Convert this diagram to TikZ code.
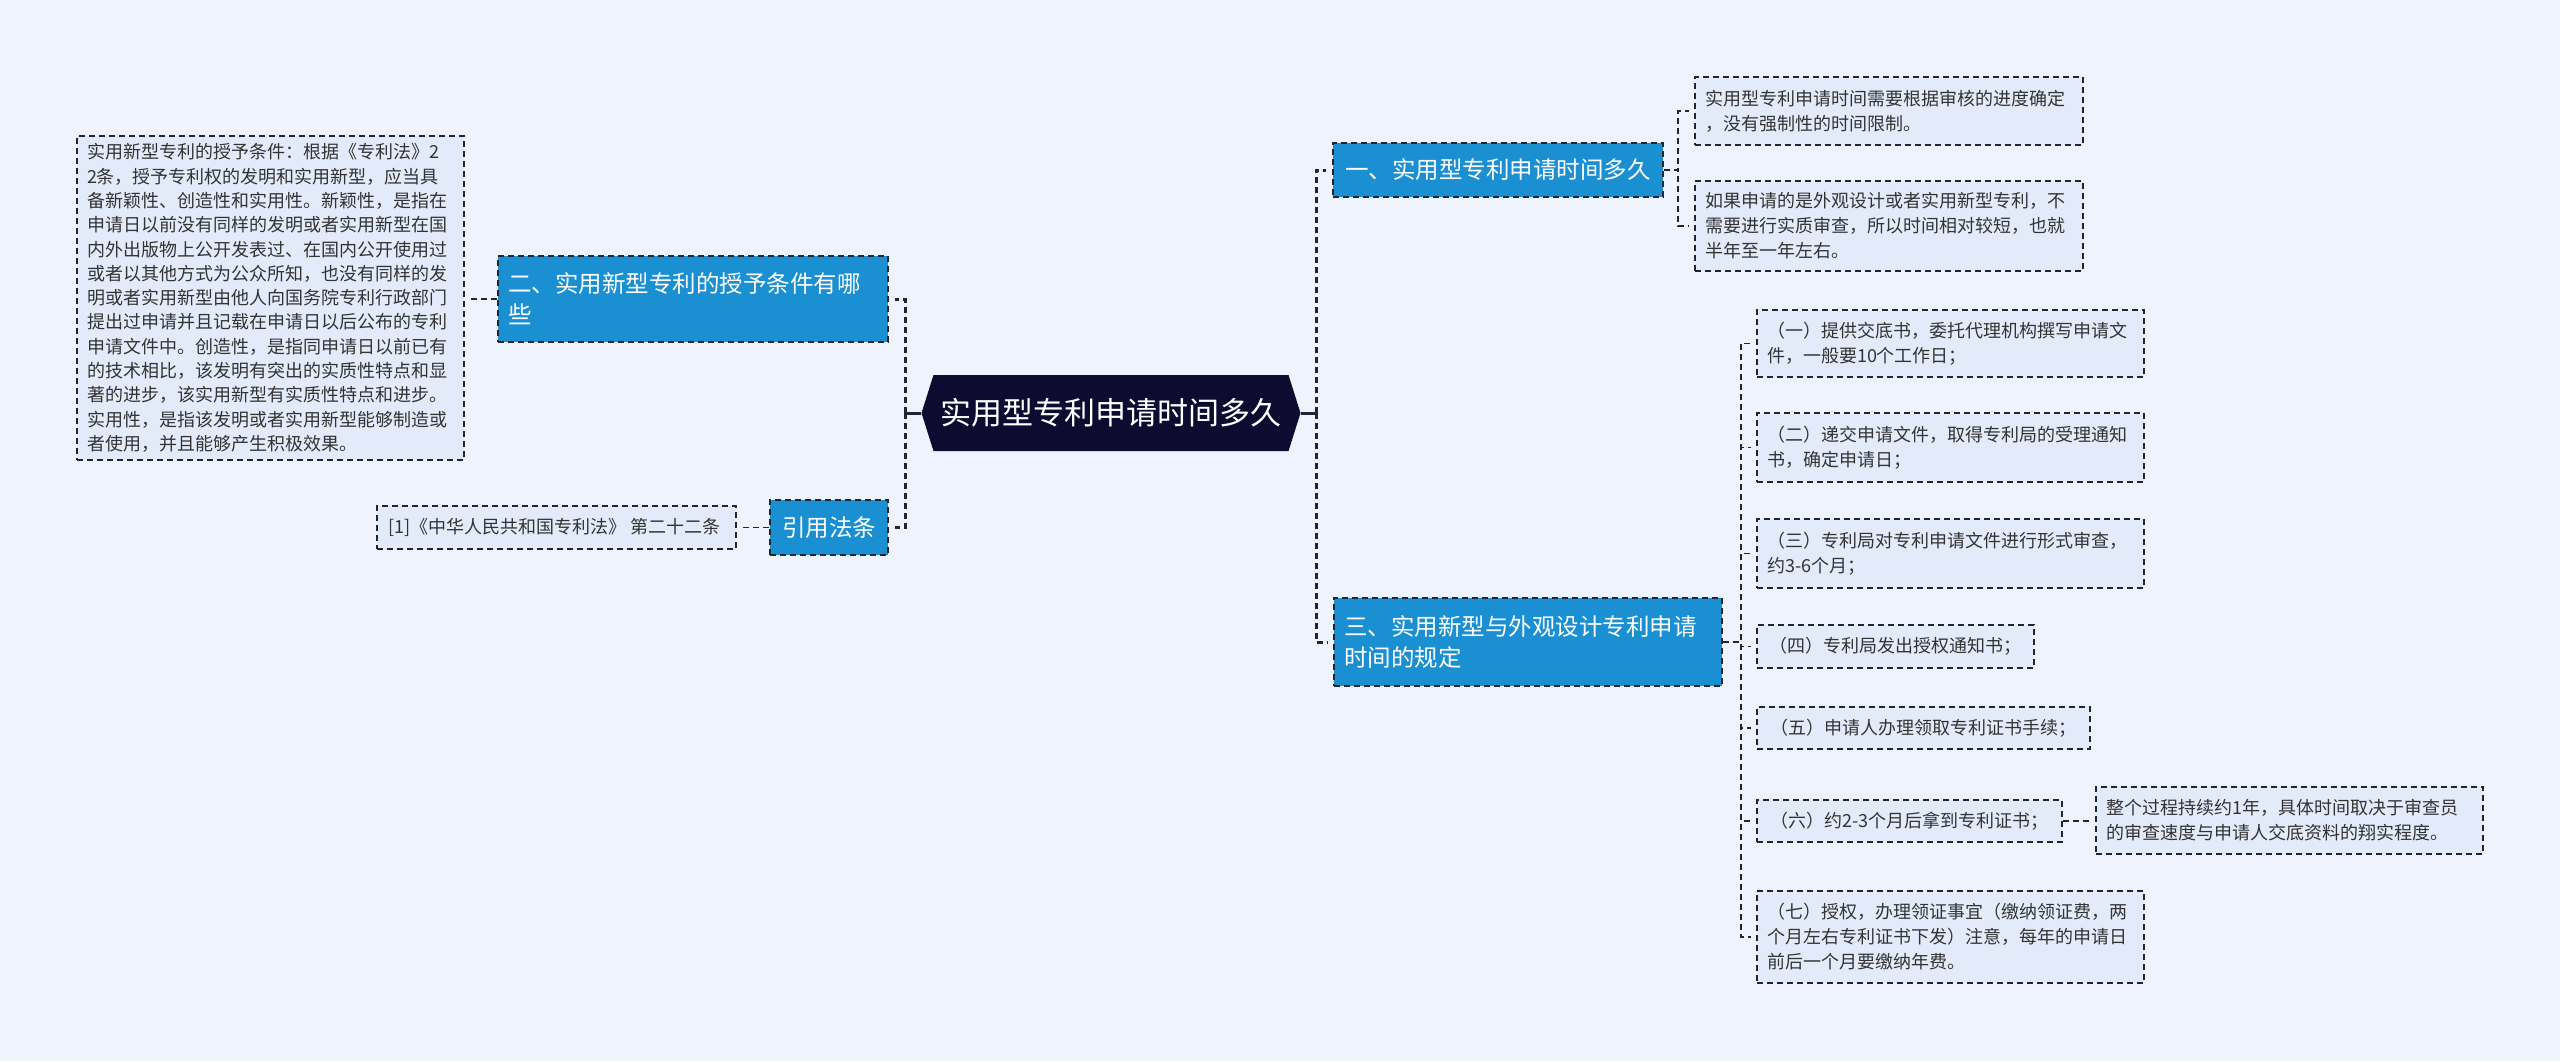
\documentclass[tikz,border=0pt]{standalone}
\usepackage{fontspec}
\newfontfamily\cjk{Noto Sans CJK SC}
\usetikzlibrary{shapes.symbols}
\definecolor{bgblue}{HTML}{EEF3FD}
\definecolor{leafblue}{HTML}{E3EBFB}
\definecolor{topicblue}{HTML}{1A8FD1}
\definecolor{rootnavy}{HTML}{0E0B30}
\definecolor{edgedark}{HTML}{1E2633}
\definecolor{textgray}{HTML}{333333}

\begin{document}
\begin{tikzpicture}[
        yscale=-1,
        x=1pt,
        y=1pt,
        every node/.style={font=\cjk},
        root/.style={signal, signal to=west and east, signal pointer angle=145,
            fill=rootnavy, text=white, font=\cjk\fontsize{31}{36}\selectfont,
            minimum width=379pt, minimum height=76pt, inner sep=0pt},
        topic/.style={draw=edgedark, line width=1.5pt, dash pattern=on 6pt off 4pt,
            fill=topicblue, text=white, font=\cjk\fontsize{23.5}{31}\selectfont,
            inner xsep=10pt, inner ysep=0pt},
        leaf/.style={draw=edgedark, line width=1.3pt, dash pattern=on 6pt off 4pt,
            fill=leafblue, text=textgray, font=\cjk\fontsize{18}{25}\selectfont,
            align=left, inner xsep=10pt, inner ysep=0pt},
        trunk/.style={draw=edgedark, line width=3pt, dash pattern=on 6pt off 4pt, shorten >=6pt},
        link/.style={draw=edgedark, line width=1.3pt, dash pattern=on 6pt off 4pt, shorten >=5pt}
    ]
    \useasboundingbox (0,0) rectangle (2560,1061);
    \fill[bgblue] (0,0) rectangle (2560,1061);

    \node[root] (root) at (1111,413) {实用型专利申请时间多久};

    \node[topic, text width=370pt, align=left, minimum height=86pt] (b2) at (693,299) {
            二、实用新型专利的授予条件有哪\\些
        };
    \node[topic, minimum width=118pt, minimum height=55pt] (ref) at (829,527.5) {引用法条};
    \node[leaf, text width=367pt, minimum height=324pt, font=\cjk\fontsize{18}{24.3}\selectfont] (lt) at (270.5,298) {
            实用新型专利的授予条件：根据《专利法》2\\
            2条，授予专利权的发明和实用新型，应当具\\
            备新颖性、创造性和实用性。新颖性，是指在\\
            申请日以前没有同样的发明或者实用新型在国\\
            内外出版物上公开发表过、在国内公开使用过\\
            或者以其他方式为公众所知，也没有同样的发\\
            明或者实用新型由他人向国务院专利行政部门\\
            提出过申请并且记载在申请日以后公布的专利\\
            申请文件中。创造性，是指同申请日以前已有\\
            的技术相比，该发明有突出的实质性特点和显\\
            著的进步，该实用新型有实质性特点和进步。\\
            实用性，是指该发明或者实用新型能够制造或\\
            者使用，并且能够产生积极效果。
        };
    \node[leaf, minimum width=359pt, minimum height=43pt] (cite) at (556.5,527.5) {
            [1]《中华人民共和国专利法》 第二十二条
        };

    \node[topic, minimum width=330pt, minimum height=54pt] (b1) at (1498,170) {一、实用型专利申请时间多久};
    \node[leaf, text width=368pt, minimum height=68pt] (yi1) at (1889,111) {
            实用型专利申请时间需要根据审核的进度确定\\，没有强制性的时间限制。
        };
    \node[leaf, text width=368pt, minimum height=90pt] (yi2) at (1889,226) {
            如果申请的是外观设计或者实用新型专利，不\\
            需要进行实质审查，所以时间相对较短，也就\\
            半年至一年左右。
        };

    \node[topic, text width=368pt, align=left, minimum height=88pt] (b3) at (1528,642) {
            三、实用新型与外观设计专利申请\\时间的规定
        };
    \node[leaf, text width=367pt, minimum height=67pt] (s1) at (1950.5,343.5) {
            （一）提供交底书，委托代理机构撰写申请文\\件，一般要10个工作日；
        };
    \node[leaf, text width=367pt, minimum height=69pt] (s2) at (1950.5,447.5) {
            （二）递交申请文件，取得专利局的受理通知\\书，确定申请日；
        };
    \node[leaf, text width=367pt, minimum height=69pt] (s3) at (1950.5,553.5) {
            （三）专利局对专利申请文件进行形式审查，\\约3-6个月；
        };
    \node[leaf, minimum width=277pt, minimum height=43pt] (s4) at (1895.5,646.5) {（四）专利局发出授权通知书；};
    \node[leaf, minimum width=333pt, minimum height=42pt] (s5) at (1923.5,728) {（五）申请人办理领取专利证书手续；};
    \node[leaf, minimum width=305pt, minimum height=42pt] (s6) at (1909.5,821) {（六）约2-3个月后拿到专利证书；};
    \node[leaf, text width=367pt, minimum height=67pt] (s6a) at (2289.5,820.5) {
            整个过程持续约1年，具体时间取决于审查员\\的审查速度与申请人交底资料的翔实程度。
        };
    \node[leaf, text width=367pt, minimum height=92pt] (s7) at (1950.5,937) {
            （七）授权，办理领证事宜（缴纳领证费，两\\
            个月左右专利证书下发）注意，每年的申请日\\
            前后一个月要缴纳年费。
        };

    \coordinate (lhub) at (905,413);
    \coordinate (rhub) at (1316,413);
    \coordinate (yihub) at (1678,170);
    \coordinate (sanhub) at (1741,642);

    \draw[edgedark, line width=3pt] (root.west) -- (lhub);
    \draw[edgedark, line width=3pt] (root.east) -- (rhub);
    \draw[trunk] (lhub) |- (b2.east);
    \draw[trunk] (lhub) |- (ref.east);
    \draw[trunk] (rhub) |- (b1.west);
    \draw[trunk] (rhub) |- (b3.west);

    \draw[link] (b2.west) -- (b2.west -| lt.east);
    \draw[link] (ref.west) -- (ref.west -| cite.east);

    \draw[link] (b1.east) -- (yihub) |- (yi1.west);
    \draw[link] (b1.east) -- (yihub) |- (yi2.west);

    \draw[link] (b3.east) -- (sanhub) |- (s1.west);
    \draw[link] (b3.east) -- (sanhub) |- (s2.west);
    \draw[link] (b3.east) -- (sanhub) |- (s3.west);
    \draw[link] (b3.east) -- (sanhub) |- (s4.west);
    \draw[link] (b3.east) -- (sanhub) |- (s5.west);
    \draw[link] (b3.east) -- (sanhub) |- (s6.west);
    \draw[link] (b3.east) -- (sanhub) |- (s7.west);
    \draw[link] (s6.east) -- (s6.east -| s6a.west);
\end{tikzpicture}
\end{document}
